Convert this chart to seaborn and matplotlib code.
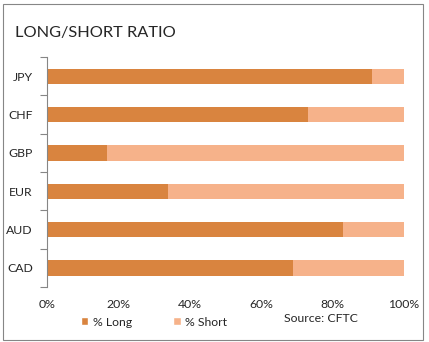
import matplotlib
matplotlib.use("Agg")
import matplotlib.pyplot as plt
import matplotlib.ticker as mticker
from matplotlib.patches import Rectangle, Patch
import seaborn as sns
import pandas as pd
import numpy as np

categories = ["JPY", "CHF", "GBP", "EUR", "AUD", "CAD"]
long_pct = [91, 73, 17, 34, 83, 69]
short_pct = [9, 27, 83, 66, 17, 31]
x_ticks = [0, 20, 40, 60, 80, 100]
x_labels = ["0%", "20%", "40%", "60%", "80%", "100%"]

LONG_C = "#D9843F"
SHORT_C = "#F6B28A"
TXT = "#262626"

sns.set_theme(style="white")
plt.rcParams["font.family"] = ["Lato", "DejaVu Sans"]

df = pd.DataFrame({"cat": categories, "long": long_pct, "short": short_pct})
df["total"] = df["long"] + df["short"]

fig = plt.figure(figsize=(4.29, 3.42), dpi=100)
ax = fig.add_axes([46.7/429, 1-287/342, (404-46.7)/429, (287-57)/342])

sns.barplot(data=df, x="total", y="cat", orient="h", color=SHORT_C, width=0.4,
            saturation=1, ax=ax, order=categories)
sns.barplot(data=df, x="long", y="cat", orient="h", color=LONG_C, width=0.4,
            saturation=1, ax=ax, order=categories)
for p in ax.patches:
    p.set_edgecolor("none")

ax.set_xlim(0, 100)
ax.set_ylim(5.5, -0.5)
ax.set_xlabel("")
ax.set_ylabel("")
ax.set_xticks(x_ticks)
ax.set_xticklabels(x_labels)
ax.tick_params(axis="x", length=0, pad=9, labelsize=8.8, labelcolor=TXT)
ax.tick_params(axis="y", which="major", length=0, pad=10, labelsize=8.8, labelcolor=TXT)
ax.yaxis.set_minor_locator(mticker.FixedLocator(np.arange(-0.5, 6.0, 1.0)))
ax.tick_params(axis="y", which="minor", length=5, width=0.8, color="#868686", left=True)
for s in ["top", "right", "bottom"]:
    ax.spines[s].set_visible(False)
ax.spines["left"].set_color("#868686")
ax.spines["left"].set_linewidth(0.8)
ax.grid(False)

fig.text(15/429, 1-33/342, "LONG/SHORT RATIO", fontsize=11.8, color=TXT,
         ha="left", va="center")

handles = [Patch(facecolor=LONG_C, label="% Long"), Patch(facecolor=SHORT_C, label="% Short")]
fig.legend(handles=handles, loc="center", bbox_to_anchor=(154/429, 1-322/342), ncol=2,
           frameon=False, fontsize=8.8, handlelength=0.6, handleheight=0.6,
           handletextpad=0.35, columnspacing=3.4, labelcolor=TXT)

fig.text(321/429, 1-318/342, "Source: CFTC", fontsize=8.8, color=TXT, ha="center", va="center")

fig.add_artist(Rectangle((3/429, 1-340/342), 420/429, 336/342, transform=fig.transFigure,
                         fill=False, edgecolor="#868686", linewidth=0.8))

fig.savefig("out.png", dpi=100)
